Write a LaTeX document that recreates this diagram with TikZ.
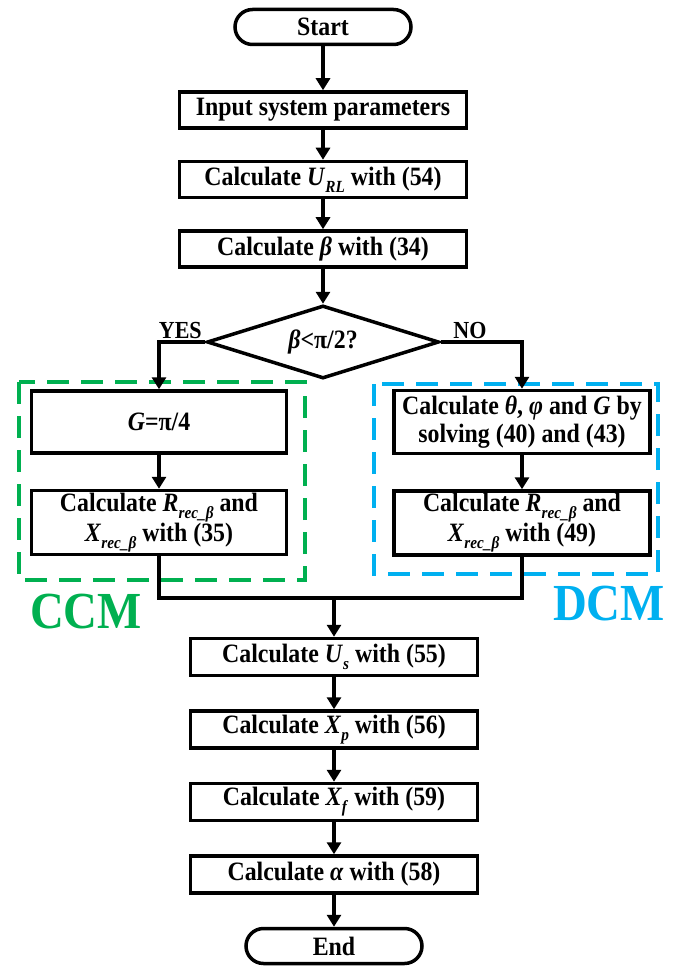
\documentclass[tikz,border=0pt]{standalone}
\usepackage{fontspec}
\setmainfont{Liberation Serif}[FakeStretch=0.9]
\usepackage{tikz}
\usetikzlibrary{arrows.meta,positioning,shapes.geometric}
\definecolor{CcmGreen}{HTML}{00B050}
\definecolor{DcmBlue}{HTML}{00B0F0}
\newcommand{\vi}[1]{\textit{#1}}
\newcommand{\sbs}[1]{\raisebox{-0.26em}{\fontsize{17}{17}\selectfont\textit{#1}}}
\tikzset{
  procbox/.style={draw=black,line width=3.5pt,rectangle,align=center,minimum width=287pt,minimum height=36pt,inner sep=2pt,font=\fontsize{26.5}{28}\selectfont\bfseries,fill=white},
  termbox/.style={procbox,minimum width=176pt,minimum height=35pt,rounded corners=17.5pt},
  decbox/.style={procbox,diamond,aspect=3.1,minimum width=232pt,minimum height=73pt,inner sep=0pt},
  flowline/.style={line width=3.5pt,draw=black},
  flowarrow/.style={flowline,-{Triangle[length=12pt,width=14pt]}},
  branchlabel/.style={font=\fontsize{24.5}{26}\selectfont\bfseries,inner sep=1.5pt},
  modelabel/.style={font=\fontsize{52}{52}\selectfont\bfseries,inner sep=0pt,anchor=base west},
  ccmframe/.style={draw=CcmGreen,line width=4.5pt,dash pattern=on 22pt off 12pt},
  dcmframe/.style={draw=DcmBlue,line width=4.5pt,dash pattern=on 22pt off 12pt}
}
\begin{document}
\begin{tikzpicture}[x=1pt,y=-1pt,node distance=30pt]
\useasboundingbox (0,0) rectangle (675,973);
% upper column
\node[termbox] (start) at (323,27) {Start};
\node[procbox,below=44pt of start] (inp) {Input system parameters};
\node[procbox,below=of inp] (url) {Calculate \vi{U}\sbs{RL} with (54)};
\node[procbox,below=of url] (bet) {Calculate \vi{β} with (34)};
\node[decbox,below=35pt of bet] (dec) {\vi{β}<π/2?};
% CCM branch
\node[procbox,minimum width=255pt,minimum height=62pt] (gval) at (159,422) {\vi{G}=π/4};
\node[procbox,minimum width=255pt,minimum height=64pt,below=34pt of gval] (rccm) {Calculate \vi{R}\sbs{rec\_β} and\\\vi{X}\sbs{rec\_β} with (35)};
% DCM branch
\node[procbox,minimum width=256pt,minimum height=63pt] (solv) at (522,422) {Calculate \vi{θ}, \vi{φ} and \vi{G} by\\solving (40) and (43)};
\node[procbox,minimum width=256pt,minimum height=64pt,below=34pt of solv] (rdcm) {Calculate \vi{R}\sbs{rec\_β} and\\\vi{X}\sbs{rec\_β} with (49)};
% lower column
\node[procbox,minimum height=37pt] (us) at (334,657) {Calculate \vi{U}\sbs{s} with (55)};
\node[procbox,minimum height=37pt,below=32pt of us] (xp) {Calculate \vi{X}\sbs{p} with (56)};
\node[procbox,minimum height=37pt,below=32pt of xp] (xf) {Calculate \vi{X}\sbs{f} with (59)};
\node[procbox,minimum height=37pt,below=32pt of xf] (alp) {Calculate \vi{α} with (58)};
\node[termbox,below=32pt of alp] (stop) {End};
\coordinate (mrg) at (334,598);
% frames
\draw[ccmframe] (19,382) rectangle (305,580);
\draw[dcmframe] (374,384) rectangle (658,574);
\node[modelabel,text=CcmGreen] (ccm) at (30,628) {CCM};
\node[modelabel,text=DcmBlue] (dcm) at (553,620) {DCM};
% connectors
\draw[flowarrow] (start) -- (inp);
\draw[flowarrow] (inp) -- (url);
\draw[flowarrow] (url) -- (bet);
\draw[flowarrow] (bet) -- (dec);
\draw[flowarrow] (dec.west) -| node[branchlabel,pos=0.27,above] (yes) {YES} (gval.north);
\draw[flowarrow] (dec.east) -| node[branchlabel,pos=0.18,above] (no) {NO} (solv.north);
\draw[flowarrow] (gval) -- (rccm);
\draw[flowarrow] (solv) -- (rdcm);
\draw[flowline] (rccm.south) |- (mrg) -| (rdcm.south);
\draw[flowarrow] (mrg) -- (us.north);
\draw[flowarrow] (us) -- (xp);
\draw[flowarrow] (xp) -- (xf);
\draw[flowarrow] (xf) -- (alp);
\draw[flowarrow] (alp) -- (stop);
\end{tikzpicture}
\end{document}
